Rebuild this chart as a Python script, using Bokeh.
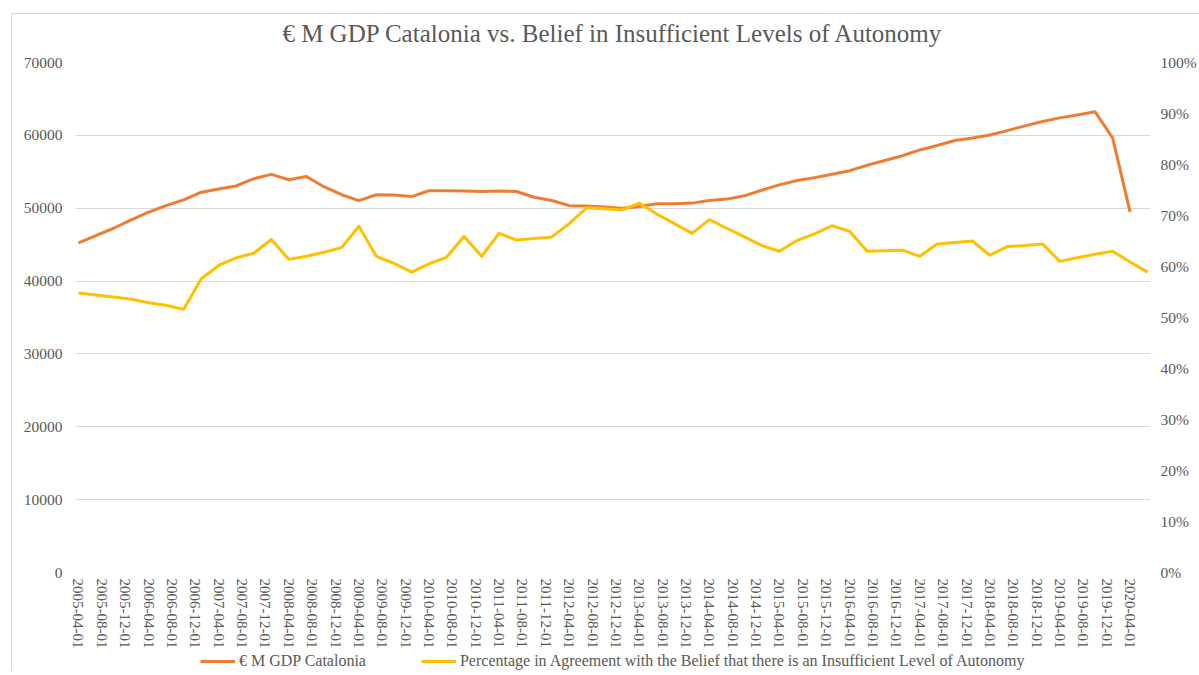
import pandas as pd
from bokeh.plotting import figure
from bokeh.layouts import column
from bokeh.models import (Range1d, LinearAxis, FixedTicker, DatetimeTickFormatter,
                          PrintfTickFormatter, Legend, LegendItem, ColumnDataSource)
from bokeh.embed import file_html
from bokeh.resources import INLINE

# ---------------- data ----------------
title_text = "€ M GDP Catalonia vs. Belief in Insufficient Levels of Autonomy"
gdp_label = "€ M GDP Catalonia"
pct_label = "Percentage in Agreement with the Belief that there is an Insufficient Level of Autonomy"

# quarterly observation dates
gdp_dates = pd.date_range("2005-04-01", "2020-04-01", freq="3MS")   # 61 quarters
pct_dates = pd.date_range("2005-04-01", "2020-07-01", freq="3MS")   # 62 quarters

gdp_values = [
    45250, 46250, 47250, 48400, 49450, 50350, 51150, 52200, 52650, 53050,
    54050, 54650, 53900, 54350, 52950, 51850, 51050, 51850, 51800, 51600,
    52400, 52400, 52350, 52300, 52350, 52300, 51500, 51050, 50350, 50300,
    50150, 50000, 50250, 50600, 50600, 50700, 51050, 51250, 51700, 52500,
    53200, 53800, 54200, 54650, 55150, 55900, 56550, 57200, 58000, 58600,
    59300, 59650, 60050, 60650, 61300, 61900, 62400, 62800, 63250, 59650,
    49500,
]

pct_values = [
    54.8, 54.4, 54.0, 53.6, 52.9, 52.4, 51.6, 57.6, 60.2, 61.7,
    62.6, 65.3, 61.4, 62.0, 62.8, 63.7, 67.9, 62.0, 60.6, 58.9,
    60.5, 61.8, 65.9, 62.0, 66.5, 65.2, 65.5, 65.8, 68.4, 71.5,
    71.3, 71.1, 72.4, 70.3, 68.4, 66.5, 69.2, 67.5, 65.8, 64.1,
    63.0, 65.1, 66.4, 68.0, 66.9, 63.0, 63.1, 63.2, 62.0, 64.4,
    64.7, 65.0, 62.2, 63.9, 64.1, 64.4, 61.0, 61.7, 62.4, 63.0,
    60.9, 58.9,
]

# x tick labels every 4 months
tick_dates = pd.date_range("2005-04-01", "2020-04-01", freq="4MS")
left_ticks = [0, 10000, 20000, 30000, 40000, 50000, 60000, 70000]
right_ticks = [0, 10, 20, 30, 40, 50, 60, 70, 80, 90, 100]

# ---------------- styling ----------------
ORANGE = "#ED7D31"
GOLD = "#FFC000"
TEXT = "#595959"
GRID = "#D9D9D9"
FONT = "Liberation Serif"
W = 1199

x_start = pd.Timestamp("2005-03-16 12:00").to_pydatetime()
x_end = pd.Timestamp("2020-07-16 12:00").to_pydatetime()

p = figure(width=W, height=651, output_backend="svg", toolbar_location=None,
           x_range=Range1d(x_start, x_end), y_range=Range1d(0, 70000),
           min_border_left=75, min_border_right=47, min_border_top=62,
           min_border_bottom=79, x_axis_type="datetime")
p.extra_y_ranges = {"pct": Range1d(0, 100)}
p.outline_line_color = None
p.background_fill_color = "white"
p.border_fill_color = None

p.title.text = title_text
p.title.align = "center"
p.title.offset = -8
p.title.text_font = FONT
p.title.text_font_size = "25px"
p.title.text_font_style = "normal"
p.title.text_color = TEXT
p.title.standoff = 31

gdp_src = ColumnDataSource(dict(x=gdp_dates, y=gdp_values))
pct_src = ColumnDataSource(dict(x=pct_dates, y=pct_values))

r1 = p.line("x", "y", source=gdp_src, line_color=ORANGE, line_width=3, line_join="round")
r2 = p.line("x", "y", source=pct_src, line_color=GOLD, line_width=3, line_join="round",
            y_range_name="pct")

# axes
xa = p.xaxis[0]
xa.ticker = FixedTicker(ticks=[t.value / 1e6 for t in tick_dates])
fmt = "%Y-%m-%d"
xa.formatter = DatetimeTickFormatter(milliseconds=fmt, seconds=fmt, minsec=fmt, minutes=fmt,
                                     hourmin=fmt, hours=fmt, days=fmt, months=fmt, years=fmt,
                                     strip_leading_zeros=False)
xa.major_label_orientation = "vertical"
xa.major_label_standoff = 6
xa.major_label_text_font_size = "15px"

ya = p.yaxis[0]
ya.ticker = FixedTicker(ticks=left_ticks)
ya.formatter = PrintfTickFormatter(format="%d")
ya.major_label_standoff = 13
ya.major_label_text_font_size = "15.5px"

ra = LinearAxis(y_range_name="pct", ticker=FixedTicker(ticks=right_ticks),
                formatter=PrintfTickFormatter(format="%d%%"))
ra.major_label_standoff = 10
ra.major_label_text_font_size = "15.5px"
p.add_layout(ra, "right")

for ax in (xa, ya, ra):
    ax.axis_line_color = None
    ax.major_tick_line_color = None
    ax.minor_tick_line_color = None
    ax.major_tick_out = 0
    ax.major_tick_in = 0
    ax.major_label_text_font = FONT
    ax.major_label_text_color = TEXT

p.xgrid.visible = False
p.ygrid.grid_line_color = GRID
p.ygrid.grid_line_width = 1

# ---------------- legend strip (separate small figure) ----------------
pl = figure(width=W, height=20, output_backend="svg", toolbar_location=None,
            x_range=Range1d(0, 1), y_range=Range1d(0, 1),
            x_axis_location=None, y_axis_location=None, min_border=0)
pl.outline_line_color = None
pl.grid.visible = False
pl.background_fill_color = None
pl.border_fill_color = None
# swatch renderers: their points lie outside the visible range, only the legend shows them
offscreen = ColumnDataSource(dict(x=[5, 6], y=[5, 6]))
l1 = pl.line("x", "y", source=offscreen, line_color=ORANGE, line_width=3)
l2 = pl.line("x", "y", source=offscreen, line_color=GOLD, line_width=3)

legend = Legend(items=[LegendItem(label=gdp_label, renderers=[l1]),
                       LegendItem(label=pct_label, renderers=[l2])],
                orientation="horizontal", location="left")
legend.border_line_color = None
legend.background_fill_alpha = 0
legend.label_text_font = FONT
legend.label_text_font_size = "16px"
legend.label_text_color = TEXT
legend.glyph_width = 35
legend.glyph_height = 14
legend.label_standoff = 4
legend.spacing = 55
legend.padding = 0
legend.margin = 125
pl.add_layout(legend, "center")

layout = column(p, pl, spacing=0)
layout.styles = {
    "background": ("linear-gradient(#D9D9D9, #D9D9D9) 11px 13px / 100% 1px no-repeat, "
                   "linear-gradient(#D9D9D9, #D9D9D9) 11px 13px / 1px 100% no-repeat, #FFFFFF"),
}

open("out.html", "w").write(file_html(layout, INLINE))
